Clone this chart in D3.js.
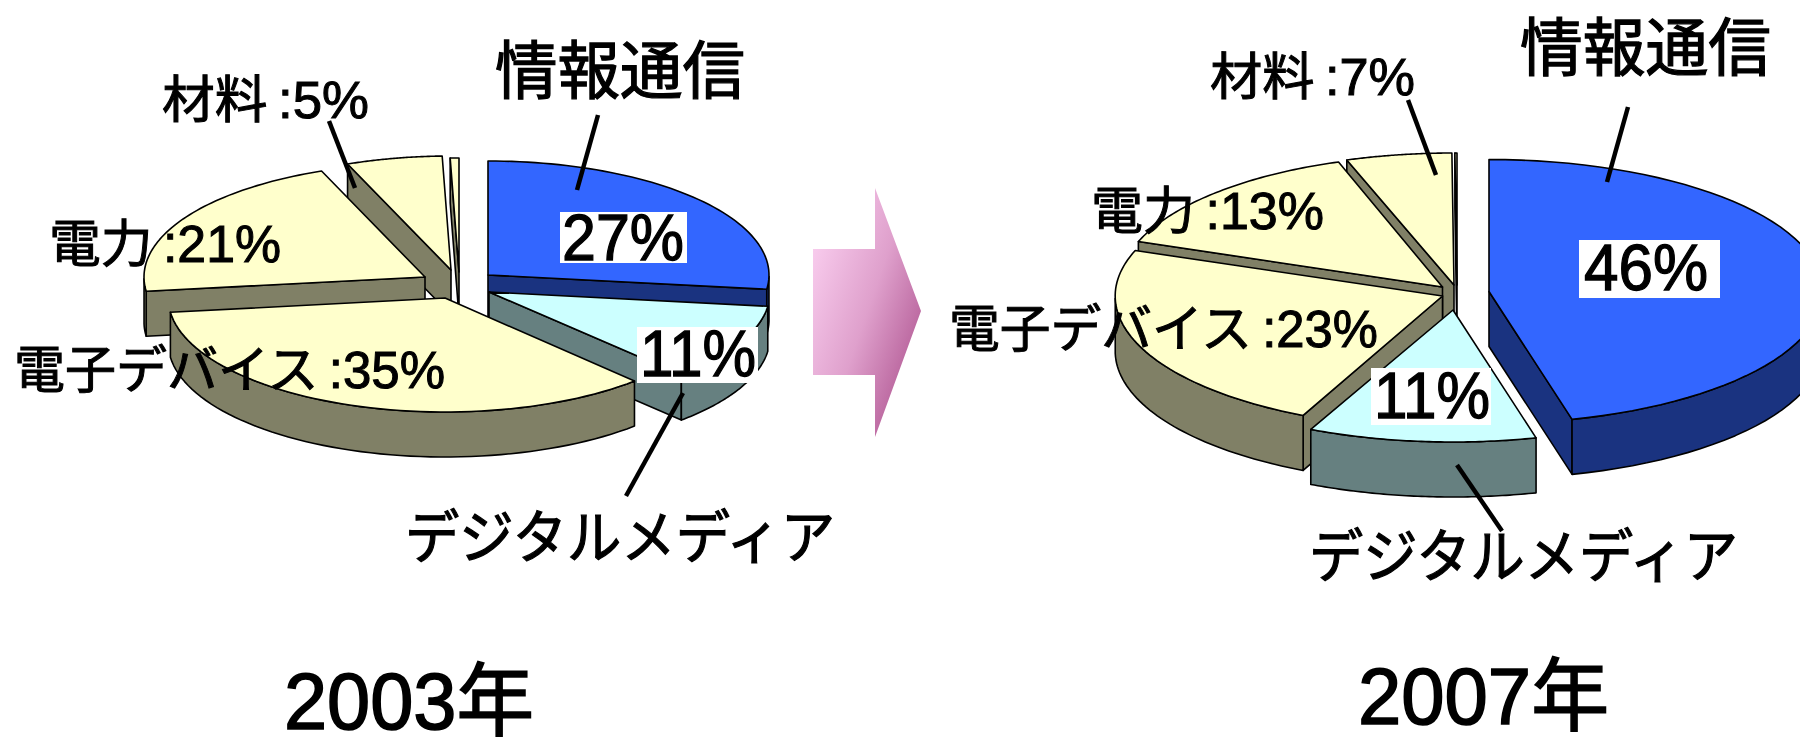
<!DOCTYPE html>
<html>
<head>
<meta charset="utf-8">
<script src="https://cdn.jsdelivr.net/npm/d3@7"></script>
<style>
html, body { margin: 0; padding: 0; background: #fff; overflow: hidden; }
text { font-family: "Liberation Sans", "Noto Sans CJK JP", sans-serif; fill: #000; }
</style>
</head>
<body>
<div id="chart"></div>
<script>
// Slices run clockwise from 12 o'clock. Last one is the unlabelled sliver at the top.
var categories = ["情報通信", "デジタルメディア", "電子デバイス", "電力", "材料", "その他"];
var shares2003 = [27, 11, 35, 21, 5.5, 0.5];
var shares2007 = [46, 11, 23.6, 14.2, 5.1, 0.1];

var labels2003 = ["27%", "11%", "電子デバイス\u2009:35%", "電力\u2009:21%", "材料\u2009:5%"];
var labels2007 = ["46%", "11%", "電子デバイス\u2009:23%", "電力\u2009:13%", "材料\u2009:7%"];
var years = ["2003年", "2007年"];

var topColors = ["#3366ff", "#ccffff", "#ffffcc", "#ffffcc", "#ffffcc", "#ffffcc"];
var sideColors = ["#1a3380", "#668080", "#808066", "#808066", "#808066", "#808066"];

var width = 1800, height = 737;

var svg = d3.select("#chart").append("svg")
    .attr("width", width)
    .attr("height", height);

// arrow gradient
var grad = svg.append("defs").append("linearGradient")
    .attr("id", "arrowFill")
    .attr("x1", "0%").attr("y1", "10%")
    .attr("x2", "100%").attr("y2", "90%");
grad.append("stop").attr("offset", "0%").attr("stop-color", "#fcd2f2");
grad.append("stop").attr("offset", "50%").attr("stop-color", "#dfa0cc");
grad.append("stop").attr("offset", "100%").attr("stop-color", "#a84a88");

// Draws one exploded 3D pie, order = back to front
function drawPie(shares, cfg) {
    var pie = d3.pie().sort(null).value(function(d) { return d; });
    var slices = pie(shares);
    var line = d3.line();
    var g = svg.append("g");

    cfg.order.forEach(function(i) {
        var s = slices[i];
        var ax = cfg.cx + cfg.offsets[i][0];
        var ay = cfg.cy + cfg.offsets[i][1];
        var rx = cfg.rx * cfg.squeeze[i];

        function rim(a) {
            return [ax + rx * Math.sin(a), ay - cfg.ry * Math.cos(a)];
        }
        function down(p) { return [p[0], p[1] + cfg.depth]; }

        var apex = [ax, ay];
        var steps = d3.range(0, 61).map(function(k) {
            return s.startAngle + (s.endAngle - s.startAngle) * k / 60;
        });
        var mid = rim((s.startAngle + s.endAngle) / 2);

        // cut faces, only the ones looking at the viewer
        [s.startAngle, s.endAngle].forEach(function(a) {
            var p = rim(a);
            if (Math.abs(p[0] - ax) < 1) return;
            var yAtMid = ay + (p[1] - ay) * (mid[0] - ax) / (p[0] - ax);
            if (mid[1] < yAtMid) {
                g.append("path")
                    .attr("d", line([apex, p, down(p), down(apex)]) + "Z")
                    .attr("fill", sideColors[i])
                    .attr("stroke", "#000")
                    .attr("stroke-width", 1.6)
                    .attr("stroke-linejoin", "round");
            }
        });

        // outer wall, front half of the rim only
        var front = steps.filter(function(a) {
            return Math.cos(a) <= 0;
        });
        if (front.length > 1) {
            var upper = front.map(rim);
            var lower = upper.map(down).reverse();
            g.append("path")
                .attr("d", line(upper.concat(lower)) + "Z")
                .attr("fill", sideColors[i])
                .attr("stroke", "#000")
                .attr("stroke-width", 1.6)
                .attr("stroke-linejoin", "round");
        }

        // top
        g.append("path")
            .attr("d", line([apex].concat(steps.map(rim))) + "Z")
            .attr("fill", topColors[i])
            .attr("stroke", "#000")
            .attr("stroke-width", 1.6)
            .attr("stroke-linejoin", "round");
    });
}

drawPie(shares2003, {
    cx: 455, cy: 283, rx: 281, ry: 114, depth: 45,
    offsets: [[33, -8], [34, 9], [-10, 15], [-30, -6], [-4, -13], [4, -11]],
    squeeze: [1, 1, 0.985, 1, 1, 1],
    order: [5, 4, 3, 0, 1, 2]
});

drawPie(shares2007, {
    cx: 1455, cy: 295, rx: 334, ry: 132, depth: 55,
    offsets: [[34, -3.5], [-2, 15], [-12.5, 1], [-12.5, -8], [-1, -10], [2, -10]],
    squeeze: [1, 1, 0.98, 0.97, 1, 1],
    order: [5, 4, 3, 2, 0, 1]
});

// arrow between the pies
svg.append("path")
    .attr("d", d3.line()([[813, 249], [875, 249], [875, 188], [921, 311], [875, 437], [875, 375], [813, 375]]) + "Z")
    .attr("fill", "url(#arrowFill)");

// leader lines
var leaders = [
    [[598, 115], [577, 190]],
    [[329, 121], [355, 188]],
    [[683, 393], [626, 496]],
    [[1628, 107], [1607, 182]],
    [[1408, 100], [1436, 175]],
    [[1457, 465], [1502, 531]]
];
svg.selectAll("line.leader").data(leaders).enter().append("line")
    .attr("class", "leader")
    .attr("x1", function(d) { return d[0][0]; })
    .attr("y1", function(d) { return d[0][1]; })
    .attr("x2", function(d) { return d[1][0]; })
    .attr("y2", function(d) { return d[1][1]; })
    .attr("stroke", "#000")
    .attr("stroke-width", 4.5);

// white boxes behind the percentages on the coloured slices
var boxes = [
    [560, 212, 127, 51],
    [637, 327, 121, 56],
    [1579, 240, 141, 58],
    [1371, 368, 120, 57]
];
svg.selectAll("rect.box").data(boxes).enter().append("rect")
    .attr("class", "box")
    .attr("x", function(d) { return d[0]; })
    .attr("y", function(d) { return d[1]; })
    .attr("width", function(d) { return d[2]; })
    .attr("height", function(d) { return d[3]; })
    .attr("fill", "#fff");

// text, x is the left edge, w the measured width
function label(txt, x, w, baseline, size) {
    svg.append("text")
        .attr("x", x)
        .attr("y", baseline)
        .attr("font-size", size)
        .attr("textLength", w)
        .attr("lengthAdjust", "spacingAndGlyphs")
        .attr("stroke", "#000")
        .attr("stroke-width", size * 0.02)
        .text(txt);
}

label(categories[0], 495, 250, 93, 63);
label(labels2003[4], 162, 207, 118, 51);
label(labels2003[3], 49, 232, 262, 51);
label(labels2003[2], 14, 431, 388, 51);
label(categories[1], 405, 430, 558, 58);
label(years[0], 284, 250, 729, 80);
label(labels2003[0], 562, 122, 260, 64);
label(labels2003[1], 640, 116, 376, 64);

label(categories[0], 1520, 251, 70, 63);
label(labels2007[4], 1210, 205, 95, 51);
label(labels2007[3], 1091, 233, 229, 51);
label(labels2007[2], 949, 429, 347, 51);
label(categories[1], 1309, 429, 577, 58);
label(years[1], 1358, 251, 724, 80);
label(labels2007[0], 1584, 124, 290, 64);
label(labels2007[1], 1374, 116, 418, 64);
</script>
</body>
</html>
